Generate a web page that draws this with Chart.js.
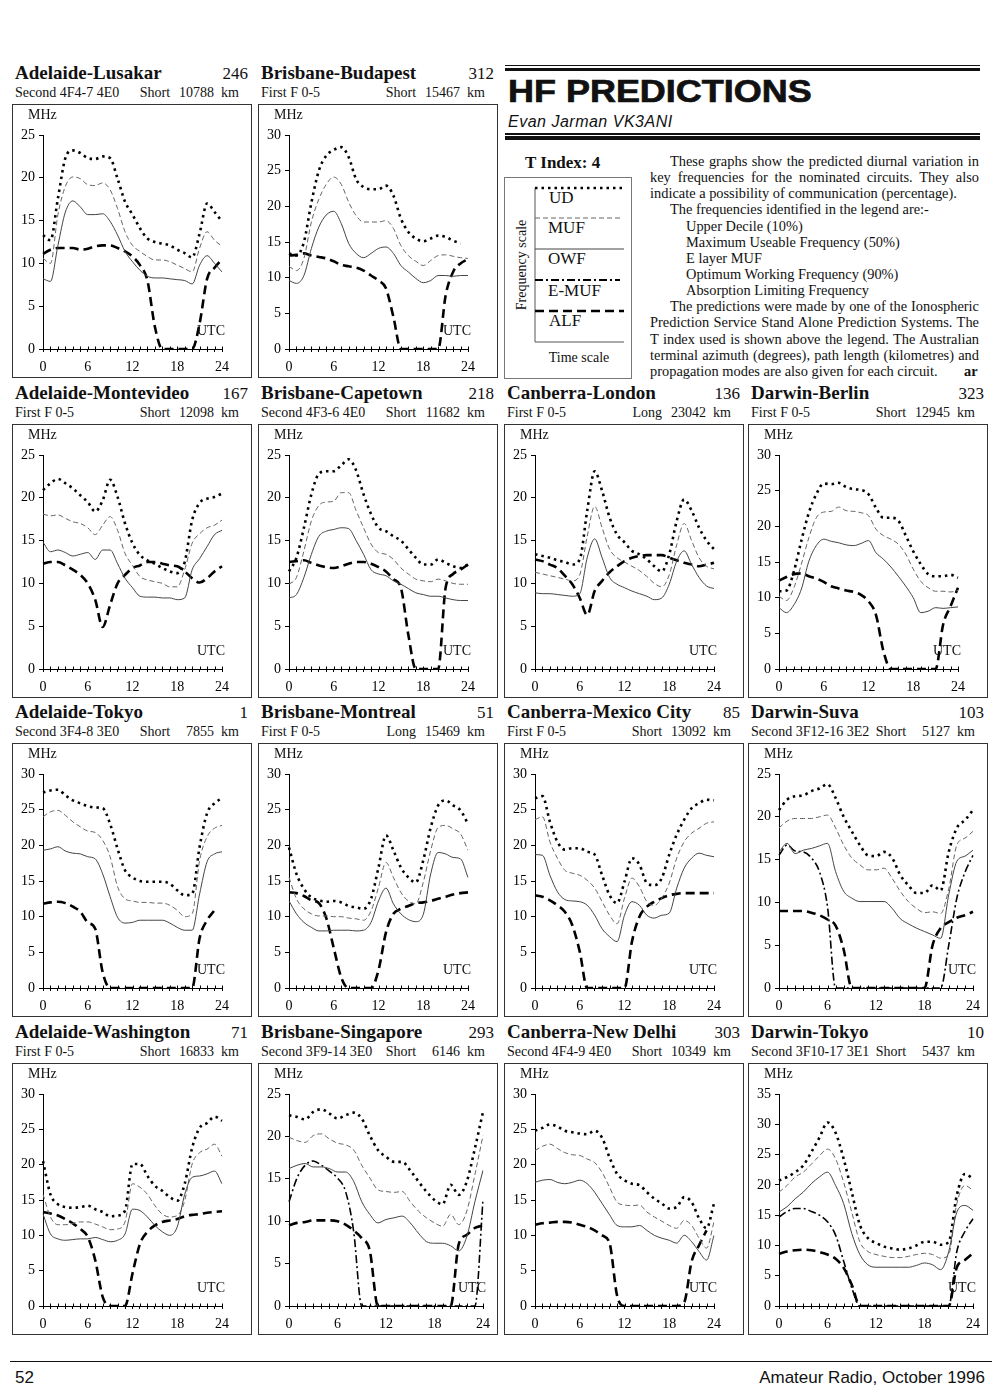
<!DOCTYPE html>
<html>
<head>
<meta charset="utf-8">
<title>HF Predictions</title>
<script src="https://cdn.jsdelivr.net/npm/chart.js@4.4.0/dist/chart.umd.min.js"></script>
<style>
  body { margin: 0; background: #fff; }
  #page { position: relative; width: 1000px; height: 1391px; overflow: hidden;
          font-family: "Liberation Serif", "Times New Roman", serif; color: #111; }
  .box { position: absolute; width: 240px; border: 1px solid #333; box-sizing: border-box; }
  .box canvas { position: absolute; left: 0; top: 0; }
  .ttl { position: absolute; font-weight: bold; font-size: 19px; line-height: 1; white-space: nowrap; }
  .az  { position: absolute; font-size: 17px; line-height: 1; text-align: right; width: 236px; }
  .sub { position: absolute; font-size: 14px; line-height: 1; white-space: nowrap; }
  .path { position: absolute; font-size: 14px; line-height: 1; white-space: nowrap; text-align: right; width: 227px; }
  .path .km { display: inline-block; width: 44px; text-align: right; }
  .rule { position: absolute; background: #111; }
  .txt { position: absolute; font-size: 14.4px; line-height: 1; white-space: nowrap; }
  .just { text-align: justify; text-align-last: justify; white-space: normal; height: 15px; }
</style>
</head>
<body>
<div id="page">
  <!-- en-tete -->
  <div class="rule" style="left:505px;top:64.5px;width:475px;height:1.5px"></div>
  <div class="rule" style="left:505px;top:67.5px;width:475px;height:3.5px"></div>
  <div style="position:absolute;left:508px;top:76px;font-family:'Liberation Sans',Arial,sans-serif;font-weight:bold;font-size:31px;line-height:1;white-space:nowrap;transform:scaleX(1.16);transform-origin:left top;-webkit-text-stroke:0.7px #111">HF PREDICTIONS</div>
  <div style="position:absolute;left:508px;top:113.5px;font-family:'Liberation Sans',Arial,sans-serif;font-style:italic;font-size:16px;line-height:1;letter-spacing:0.5px;white-space:nowrap">Evan Jarman VK3ANI</div>
  <div class="rule" style="left:505px;top:133.3px;width:475px;height:1.5px"></div>
  <div class="rule" style="left:505px;top:136px;width:475px;height:4px"></div>

  <!-- legende -->
  <div style="position:absolute;left:525px;top:154px;font-weight:bold;font-size:17px;line-height:1;white-space:nowrap">T Index: 4</div>
  <svg style="position:absolute;left:504px;top:177px" width="128" height="202" font-family="Liberation Serif, Times New Roman, serif" fill="#111">
    <rect x="0.5" y="0.5" width="127" height="201" fill="none" stroke="#777" stroke-width="1"/>
    <line x1="31" y1="11" x2="31" y2="165" stroke="#555" stroke-width="1"/>
    <line x1="31" y1="11" x2="120" y2="11" stroke="#000" stroke-width="2.6" stroke-dasharray="2.5 4"/>
    <text x="45" y="26" font-size="17">UD</text>
    <line x1="31" y1="41" x2="116" y2="41" stroke="#666" stroke-width="1" stroke-dasharray="5 3"/>
    <text x="44" y="56" font-size="17">MUF</text>
    <line x1="31" y1="72" x2="120" y2="72" stroke="#444" stroke-width="1"/>
    <text x="44" y="87" font-size="17">OWF</text>
    <line x1="31" y1="103" x2="116" y2="103" stroke="#000" stroke-width="1.8" stroke-dasharray="8 3 2 3"/>
    <text x="44" y="119" font-size="17">E-MUF</text>
    <line x1="31" y1="134" x2="120" y2="134" stroke="#000" stroke-width="2.6" stroke-dasharray="9 5"/>
    <text x="45" y="149" font-size="17">ALF</text>
    <line x1="31" y1="165" x2="120" y2="165" stroke="#555" stroke-width="1"/>
    <text x="17" y="88" font-size="14" text-anchor="middle" dominant-baseline="central" transform="rotate(-90 17 88)">Frequency scale</text>
    <text x="75" y="185" font-size="14" text-anchor="middle">Time scale</text>
  </svg>

  <!-- texte -->
  <div class="txt just" style="left:670px;top:153.9px;width:309px">These graphs show the predicted diurnal variation in</div>
  <div class="txt just" style="left:650px;top:170.1px;width:329px">key frequencies for the nominated circuits. They also</div>
  <div class="txt" style="left:650px;top:186.2px">indicate a possibility of communication (percentage).</div>
  <div class="txt" style="left:670px;top:202.4px">The frequencies identified in the legend are:-</div>
  <div class="txt" style="left:686px;top:218.5px">Upper Decile (10%)</div>
  <div class="txt" style="left:686px;top:234.7px">Maximum Useable Frequency (50%)</div>
  <div class="txt" style="left:686px;top:250.8px">E layer MUF</div>
  <div class="txt" style="left:686px;top:267px">Optimum Working Frequency (90%)</div>
  <div class="txt" style="left:686px;top:283.1px">Absorption Limiting Frequency</div>
  <div class="txt just" style="left:670px;top:299.3px;width:309px">The predictions were made by one of the Ionospheric</div>
  <div class="txt just" style="left:650px;top:315.4px;width:329px">Prediction Service Stand Alone Prediction Systems. The</div>
  <div class="txt just" style="left:650px;top:331.6px;width:329px">T index used is shown above the legend. The Australian</div>
  <div class="txt just" style="left:650px;top:347.7px;width:329px">terminal azimuth (degrees), path length (kilometres) and</div>
  <div class="txt" style="left:650px;top:363.9px">propagation modes are also given for each circuit.</div>
  <div class="txt" style="left:964px;top:363.9px;font-weight:bold">ar</div>

  <!-- pied de page -->
  <div class="rule" style="left:10px;top:1360.5px;width:982px;height:1.6px"></div>
  <div style="position:absolute;left:15px;top:1368.5px;font-family:'Liberation Sans',Arial,sans-serif;font-size:17px;line-height:1">52</div>
  <div style="position:absolute;left:600px;width:385px;text-align:right;top:1368.5px;font-family:'Liberation Sans',Arial,sans-serif;font-size:17px;line-height:1;white-space:nowrap">Amateur Radio, October 1996</div>
</div>

<script>
// <données>
const hours = [0, 1, 2, 3, 4, 5, 6, 7, 8, 9, 10, 11, 12, 13, 14, 15, 16, 17, 18, 19, 20, 21, 22, 23, 24];

const circuitNames = ["Adelaide-Lusakar", "Brisbane-Budapest", "Adelaide-Montevideo", "Brisbane-Capetown",
  "Canberra-London", "Darwin-Berlin", "Adelaide-Tokyo", "Brisbane-Montreal", "Canberra-Mexico City",
  "Darwin-Suva", "Adelaide-Washington", "Brisbane-Singapore", "Canberra-New Delhi", "Darwin-Tokyo"];
const azimuths = [246, 312, 167, 218, 136, 323, 1, 51, 85, 103, 71, 293, 303, 10];
const modes = ["Second 4F4-7 4E0", "First F 0-5", "First F 0-5", "Second 4F3-6 4E0", "First F 0-5", "First F 0-5",
  "Second 3F4-8 3E0", "First F 0-5", "First F 0-5", "Second 3F12-16 3E2", "First F 0-5",
  "Second 3F9-14 3E0", "Second 4F4-9 4E0", "Second 3F10-17 3E1"];
const pathTypes = ["Short", "Short", "Short", "Short", "Long", "Short", "Short", "Long", "Short", "Short", "Short", "Short", "Short", "Short"];
const pathKm = [10788, 15467, 12098, 11682, 23042, 12945, 7855, 15469, 13092, 5127, 16833, 6146, 10349, 5437];
const yMax = [25, 30, 25, 25, 25, 30, 30, 30, 30, 25, 30, 25, 30, 35];

// Adelaide-Lusakar
const lusakarUD  = [13.3, 12.7, 17.6, 22.3, 23.2, 22.9, 22.3, 22.2, 22.5, 22.3, 19.9, 17.2, 15.7, 14.1, 12.9, 12.5, 12.3, 12.1, 11.6, 11.2, 10.7, 13.5, 17.0, 16.0, 14.9];
const lusakarMUF = [10.6, 10.0, 15.7, 19.0, 20.1, 19.9, 19.2, 19.1, 19.4, 18.6, 16.4, 13.7, 12.1, 11.4, 10.8, 10.4, 10.4, 10.2, 9.8, 9.4, 9.0, 11.8, 13.7, 12.7, 12.0];
const lusakarOWF = [8.2, 7.9, 12.1, 16.0, 17.3, 16.6, 15.7, 15.7, 15.8, 14.9, 13.3, 11.4, 10.2, 9.2, 8.5, 8.3, 8.3, 8.2, 8.1, 8.0, 7.6, 9.8, 10.9, 10.0, 9.0];
const lusakarALF = [11.1, 11.6, 11.8, 11.8, 11.8, 11.6, 11.7, 12.0, 12.1, 12.1, 11.8, 11.4, 10.8, 9.8, 8.0, 2.6, 0, 0, 0, 0, 0, 3.0, 8.2, 9.5, 10.5];
// Brisbane-Budapest
const budapestUD  = [13.4, 13.1, 15.0, 20.5, 25.0, 27.1, 27.9, 28.3, 26.9, 23.8, 22.7, 22.4, 22.4, 22.9, 21.5, 18.3, 16.4, 15.5, 15.1, 15.5, 15.9, 15.7, 15.2, 14.8, null];
const budapestMUF = [11.6, 11.0, 12.7, 17.8, 21.0, 23.1, 24.1, 23.1, 20.6, 18.7, 17.8, 17.8, 17.8, 18.0, 16.9, 14.5, 13.1, 12.3, 11.7, 12.4, 13.1, 13.2, 13.0, 12.8, 12.7];
const budapestOWF = [9.6, 9.2, 10.3, 14.1, 17.1, 18.8, 19.3, 17.6, 14.8, 13.4, 12.8, 13.4, 14.1, 14.3, 13.4, 11.7, 10.8, 9.9, 9.3, 9.6, 10.3, 10.3, 10.2, 10.3, 10.3];
const budapestALF = [13.1, 13.2, 13.4, 13.1, 12.9, 12.7, 12.3, 11.8, 11.6, 11.4, 11.0, 10.3, 9.6, 8.5, 4.5, 0, 0, 0, 0, 0, 0, 7.5, 10.8, 12.0, 12.6];
// Adelaide-Montevideo
const montevideoUD  = [20.9, 21.7, 22.2, 21.7, 21.1, 20.3, 19.5, 18.4, 19.7, 22.1, 20.1, 17.0, 14.7, 13.3, 12.7, 12.3, 11.8, 11.4, 11.2, 12.5, 17.4, 19.4, 19.9, 20.1, 20.5];
const montevideoMUF = [18.1, 17.9, 18.0, 17.6, 17.2, 17.0, 16.5, 15.7, 16.8, 17.8, 16.2, 13.5, 12.1, 10.8, 10.4, 10.2, 10.0, 9.6, 9.6, 11.6, 14.7, 15.8, 16.5, 16.8, 17.4];
const montevideoOWF = [14.8, 13.7, 13.9, 13.6, 13.2, 13.4, 13.6, 12.8, 13.9, 13.9, 12.3, 10.6, 9.5, 8.5, 8.4, 8.4, 8.3, 8.3, 8.1, 8.3, 11.6, 12.9, 14.3, 15.7, 16.2];
const montevideoALF = [12.3, 12.5, 12.5, 12.1, 11.6, 11.0, 10.0, 8.1, 4.9, 7.5, 10.0, 11.0, 11.8, 12.1, 12.5, 12.5, 12.3, 12.1, 12.0, 11.4, 10.6, 10.1, 10.6, 11.4, 12.0];
// Brisbane-Capetown
const capetownUD  = [11.4, 13.0, 16.5, 20.4, 22.8, 23.1, 23.1, 23.8, 24.5, 23.2, 20.4, 18.1, 16.5, 16.1, 15.5, 15.0, 14.0, 13.0, 12.2, 12.2, 12.8, 12.4, 12.0, 11.8, 12.2];
const capetownMUF = [9.9, 10.7, 13.8, 17.3, 19.1, 19.5, 19.6, 20.6, 20.6, 18.5, 16.5, 14.6, 13.6, 13.4, 12.8, 11.8, 11.1, 10.5, 10.3, 10.2, 10.5, 10.3, 10.0, 9.9, 9.9];
const capetownOWF = [8.3, 8.7, 10.7, 13.4, 15.5, 16.1, 16.3, 16.5, 16.4, 15.0, 13.4, 11.6, 11.1, 10.9, 10.3, 9.9, 9.4, 8.9, 8.7, 8.5, 8.5, 8.3, 8.1, 8.0, 8.0];
const capetownALF = [12.5, 12.6, 12.7, 12.4, 12.1, 11.9, 11.8, 12.0, 12.3, 12.5, 12.5, 12.3, 11.9, 11.4, 10.5, 9.5, 4.0, 0, 0, 0, 0, 9.5, 11.1, 11.6, 12.2];
// Canberra-London
const londonUD  = [13.4, 13.2, 13.0, 12.7, 12.5, 12.2, 12.8, 18.5, 23.1, 20.8, 17.7, 15.7, 14.8, 13.8, 13.4, 12.8, 12.0, 11.4, 13.4, 17.3, 19.8, 18.5, 16.5, 15.0, 14.0];
const londonMUF = [11.3, 11.1, 10.9, 10.7, 10.5, 10.3, 11.0, 15.5, 19.0, 16.5, 14.0, 13.0, 12.5, 12.0, 11.5, 10.8, 10.0, 9.6, 11.0, 14.5, 17.0, 15.0, 13.0, 12.0, 11.7];
const londonOWF = [8.9, 8.8, 8.8, 8.7, 8.6, 8.5, 8.8, 13.0, 15.2, 13.0, 10.7, 9.9, 9.5, 9.1, 8.8, 8.5, 8.1, 8.3, 9.9, 12.6, 13.8, 12.2, 10.7, 9.7, 9.4];
const londonALF = [12.8, 12.6, 12.2, 11.8, 10.9, 9.9, 8.3, 6.3, 9.1, 10.3, 11.3, 12.0, 12.6, 13.0, 13.2, 13.3, 13.3, 13.3, 13.0, 12.7, 12.4, 12.2, 12.0, 12.2, 12.4];
// Darwin-Berlin
const berlinUD  = [10.9, 11.0, 13.7, 18.0, 21.9, 24.5, 26.0, 25.9, 26.1, 25.5, 25.2, 25.1, 24.5, 22.6, 21.2, 21.2, 20.8, 18.7, 16.5, 14.7, 13.3, 13.0, 13.0, 13.2, 12.8];
const berlinMUF = [10.2, 9.6, 11.4, 14.7, 18.4, 21.2, 22.0, 22.1, 22.7, 22.2, 22.1, 21.9, 21.5, 19.6, 18.7, 18.2, 17.5, 16.1, 14.0, 12.3, 11.4, 10.9, 10.9, 10.8, 11.0];
const berlinOWF = [8.6, 7.9, 9.0, 11.2, 15.1, 17.3, 18.2, 17.9, 17.7, 17.4, 17.3, 17.6, 18.0, 16.3, 15.4, 14.3, 13.0, 11.6, 10.0, 7.9, 8.1, 8.6, 8.5, 8.6, 8.7];
const berlinALF = [12.4, 12.9, 13.3, 13.4, 13.0, 12.7, 12.2, 11.6, 11.3, 11.0, 10.8, 10.4, 9.5, 7.6, 2.5, 0, 0, 0, 0, 0, 0, 0, 6.2, 8.8, 11.4];
// Adelaide-Tokyo
const adlTokyoUD  = [27.4, 27.7, 27.8, 27.0, 26.3, 25.9, 25.5, 25.3, 25.2, 23.0, 19.5, 16.5, 15.5, 15.0, 14.9, 14.9, 14.9, 14.6, 13.7, 13.0, 13.2, 19.8, 24.5, 25.9, 26.6];
const adlTokyoMUF = [24.0, 24.7, 24.9, 24.2, 23.3, 22.6, 22.0, 21.8, 20.7, 18.4, 14.2, 12.5, 12.2, 12.0, 12.0, 11.9, 11.9, 11.6, 10.9, 10.0, 10.4, 17.9, 21.2, 22.4, 22.8];
const adlTokyoOWF = [19.3, 19.5, 19.8, 19.2, 18.9, 18.8, 18.4, 18.1, 16.0, 12.8, 9.9, 9.1, 9.2, 9.5, 9.5, 9.5, 9.5, 9.1, 8.5, 8.1, 8.1, 13.2, 17.7, 18.8, 19.1];
const adlTokyoALF = [11.8, 12.0, 12.1, 11.9, 11.4, 10.7, 9.2, 8.3, 2.2, 0, 0, 0, 0, 0, 0, 0, 0, 0, 0, 0, 0, 7.0, 9.5, 10.9, null];
// Brisbane-Montreal
const montrealUD  = [19.7, 16.0, 13.9, 12.7, 12.3, 12.1, 12.2, 12.0, 11.5, 11.3, 11.1, 12.5, 16.9, 21.4, 19.3, 16.9, 15.5, 14.8, 17.9, 22.5, 25.6, 26.3, 25.6, 24.9, 23.0];
const montrealMUF = [15.5, 12.5, 11.1, 10.4, 10.1, 10.1, 10.0, 10.0, 9.8, 9.7, 9.5, 10.8, 14.1, 17.6, 15.5, 13.4, 12.2, 11.8, 14.8, 19.3, 22.5, 22.8, 22.3, 21.6, 19.3];
const montrealOWF = [12.2, 10.4, 9.2, 8.5, 8.0, 8.0, 8.1, 8.1, 8.1, 8.0, 8.1, 9.2, 12.2, 14.0, 11.8, 10.4, 9.6, 9.3, 10.3, 16.0, 19.0, 18.8, 18.3, 18.1, 15.5];
const montrealALF = [13.4, 13.3, 12.9, 12.3, 11.9, 9.8, 5.6, 1.5, 0, 0, 0, 0, 2.5, 7.8, 10.4, 11.1, 11.5, 11.9, 12.0, 12.2, 12.5, 12.8, 13.1, 13.3, 13.4];
// Canberra-Mexico City
const mexicoUD  = [26.6, 26.9, 23.3, 20.5, 19.4, 19.6, 19.6, 19.1, 18.7, 15.8, 13.0, 11.9, 14.9, 18.2, 17.3, 14.7, 14.4, 15.4, 18.7, 21.5, 23.6, 25.2, 25.9, 26.4, 26.3];
const mexicoMUF = [23.6, 24.0, 20.5, 18.2, 16.5, 16.1, 15.8, 15.1, 14.0, 12.1, 10.2, 9.0, 12.6, 15.4, 14.2, 12.1, 11.6, 12.6, 14.7, 18.2, 20.5, 21.7, 22.4, 23.1, 23.3];
const mexicoOWF = [18.7, 18.6, 15.8, 13.5, 12.4, 12.2, 12.1, 11.6, 10.2, 8.3, 7.2, 6.5, 10.2, 12.1, 11.6, 10.2, 9.8, 10.2, 10.5, 14.0, 16.8, 18.2, 18.9, 18.6, 18.4];
const mexicoALF = [13.0, 12.8, 12.3, 11.6, 10.7, 8.8, 5.1, 0, 0, 0, 0, 0, 0, 6.5, 10.0, 11.4, 12.1, 12.6, 13.0, 13.2, 13.3, 13.3, 13.3, 13.3, 13.3];
// Darwin-Suva
const suvaUD   = [20.8, 22.0, 22.4, 22.5, 23.0, 23.3, 23.8, 22.2, 20.0, 18.3, 16.7, 15.5, 15.4, 15.9, 15.2, 13.2, 12.0, 11.1, 11.1, 12.0, 11.4, 15.9, 18.7, 19.6, 20.8];
const suvaMUF  = [18.7, 19.5, 19.8, 19.8, 19.8, 20.0, 20.2, 18.7, 16.7, 15.2, 14.4, 13.8, 13.8, 14.0, 12.8, 11.3, 10.1, 9.3, 8.8, 8.9, 8.7, 11.6, 16.7, 17.5, 18.3];
const suvaOWF  = [15.9, 16.9, 15.7, 16.1, 16.3, 16.6, 16.9, 13.6, 11.3, 10.5, 10.1, 10.1, 10.1, 10.1, 9.3, 8.1, 7.5, 7.0, 6.6, 6.2, 5.8, 10.9, 14.8, 15.4, 16.1];
const suvaEMUF = [15.5, 16.7, 16.0, 15.9, 15.2, 13.6, 9.5, 0, 0, 0, 0, 0, 0, 0, 0, 0, 0, 0, 0, 0, 0, 5.0, 10.5, 13.5, 15.5];
const suvaALF  = [9.0, 9.0, 9.0, 9.0, 8.8, 8.5, 8.0, 7.3, 4.5, 0, 0, 0, 0, 0, 0, 0, 0, 0, 0, 5.0, 7.0, 7.7, 8.2, 8.5, 8.9];
// Adelaide-Washington
const washingtonUD  = [20.5, 15.8, 14.4, 14.0, 13.9, 14.0, 14.2, 13.7, 13.3, 12.7, 12.8, 13.5, 20.1, 20.1, 18.4, 17.0, 16.3, 15.4, 14.9, 17.3, 22.4, 25.2, 25.9, 26.8, 26.2];
const washingtonMUF = [15.8, 12.6, 11.5, 11.5, 11.7, 11.9, 11.9, 11.6, 11.2, 10.8, 10.9, 11.9, 17.3, 16.8, 15.8, 14.2, 13.0, 12.6, 12.8, 14.9, 20.1, 21.7, 22.2, 22.9, 21.2];
const washingtonOWF = [13.0, 10.2, 9.5, 9.3, 9.4, 9.5, 9.5, 9.7, 9.4, 9.1, 9.3, 10.2, 13.7, 13.5, 12.6, 11.4, 10.5, 10.0, 11.2, 15.8, 18.2, 18.4, 18.7, 19.1, 17.3];
const washingtonALF = [13.3, 13.1, 12.8, 12.3, 11.7, 10.9, 9.8, 6.5, 1.3, 0, 0, 0, 4.6, 8.8, 10.5, 11.4, 11.9, 12.1, 12.3, 12.7, 12.9, 13.0, 13.2, 13.3, 13.4];
// Brisbane-Singapore
const singaporeUD   = [22.5, 22.3, 22.0, 22.9, 23.2, 22.7, 22.1, 22.5, 22.8, 22.1, 20.1, 18.4, 17.6, 17.0, 17.0, 16.0, 14.7, 13.5, 12.5, 12.0, 14.3, 13.1, 14.7, 18.6, 22.9];
const singaporeMUF  = [19.9, 19.5, 19.3, 20.1, 20.3, 19.7, 19.2, 19.0, 18.4, 16.6, 15.1, 13.7, 13.5, 13.4, 13.5, 12.3, 11.2, 10.4, 9.8, 9.4, 10.8, 9.6, 11.2, 15.5, 20.1];
const singaporeOWF  = [16.2, 16.6, 16.8, 16.4, 16.4, 16.2, 15.8, 15.8, 14.7, 12.3, 10.8, 9.8, 10.2, 10.4, 10.6, 9.8, 8.6, 7.6, 7.4, 7.4, 7.1, 6.5, 8.2, 12.3, 16.0];
const singaporeEMUF = [12.3, 15.1, 16.6, 17.1, 16.6, 15.9, 15.1, 13.5, 8.8, 0, 0, 0, 0, 0, 0, 0, 0, 0, 0, 0, 0, 0, 0, 0, 12.5];
const singaporeALF  = [9.5, 9.8, 9.9, 10.1, 10.1, 10.1, 10.0, 9.6, 8.9, 8.0, 6.5, 0, 0, 0, 0, 0, 0, 0, 0, 0, 0, 7.3, 8.4, 9.2, 9.5];
// Canberra-New Delhi
const delhiUD  = [24.8, 25.2, 25.7, 25.4, 24.8, 24.6, 24.4, 24.3, 24.8, 23.8, 21.0, 18.7, 17.8, 17.3, 17.1, 16.1, 15.2, 14.5, 13.8, 14.0, 15.4, 14.7, 12.4, 11.0, 14.5];
const delhiMUF = [22.0, 22.6, 22.9, 22.3, 21.7, 21.4, 21.3, 20.8, 20.3, 18.9, 16.8, 14.7, 14.3, 14.2, 14.3, 13.3, 12.6, 12.0, 11.4, 11.0, 12.1, 11.4, 9.6, 8.2, 11.9];
const delhiOWF = [17.5, 17.8, 17.9, 17.5, 17.3, 17.5, 17.8, 17.3, 16.1, 14.5, 12.9, 11.4, 11.2, 11.2, 11.4, 10.7, 10.0, 9.6, 9.3, 8.9, 10.0, 9.1, 7.7, 6.5, 10.0];
const delhiALF = [11.5, 11.7, 11.8, 11.9, 11.9, 11.8, 11.5, 11.2, 10.7, 10.0, 8.9, 1.5, 0, 0, 0, 0, 0, 0, 0, 0, 0.5, 6.3, 8.6, 10.7, null];
// Darwin-Tokyo
const drwTokyoUD   = [20.7, 21.3, 22.1, 23.2, 25.4, 27.8, 30.3, 28.6, 24.3, 18.8, 13.4, 11.2, 10.4, 9.8, 9.5, 9.3, 9.5, 10.0, 10.6, 10.6, 10.1, 10.6, 18.3, 21.8, 21.0];
const drwTokyoMUF  = [18.8, 19.9, 21.3, 22.1, 23.4, 24.8, 25.9, 24.3, 20.4, 15.5, 10.6, 9.0, 8.5, 8.2, 8.0, 8.0, 8.2, 8.5, 8.7, 8.5, 7.9, 8.5, 16.9, 19.9, 19.1];
const drwTokyoOWF  = [15.5, 16.4, 17.7, 18.8, 20.2, 21.3, 22.1, 19.9, 16.9, 12.0, 8.5, 6.8, 6.4, 6.4, 6.4, 6.4, 6.4, 6.7, 7.1, 6.8, 6.0, 9.0, 15.5, 16.6, 15.8];
const drwTokyoEMUF = [14.7, 15.6, 16.1, 16.1, 15.6, 15.0, 13.9, 11.7, 7.4, 3.0, 0, 0, 0, 0, 0, 0, 0, 0, 0, 0, 0, 0, 9.0, 12.3, 14.4];
const drwTokyoALF  = [8.6, 9.0, 9.2, 9.3, 9.2, 8.9, 8.5, 7.8, 6.3, 3.5, 0, 0, 0, 0, 0, 0, 0, 0, 0, 0, 0, 0, 6.4, 7.6, 8.7];
// </données>

// séries par circuit, dans le même ordre que circuitNames
const seriesUD   = [lusakarUD, budapestUD, montevideoUD, capetownUD, londonUD, berlinUD, adlTokyoUD, montrealUD, mexicoUD, suvaUD, washingtonUD, singaporeUD, delhiUD, drwTokyoUD];
const seriesMUF  = [lusakarMUF, budapestMUF, montevideoMUF, capetownMUF, londonMUF, berlinMUF, adlTokyoMUF, montrealMUF, mexicoMUF, suvaMUF, washingtonMUF, singaporeMUF, delhiMUF, drwTokyoMUF];
const seriesOWF  = [lusakarOWF, budapestOWF, montevideoOWF, capetownOWF, londonOWF, berlinOWF, adlTokyoOWF, montrealOWF, mexicoOWF, suvaOWF, washingtonOWF, singaporeOWF, delhiOWF, drwTokyoOWF];
const seriesEMUF = [null, null, null, null, null, null, null, null, null, suvaEMUF, null, singaporeEMUF, null, drwTokyoEMUF];
const seriesALF  = [lusakarALF, budapestALF, montevideoALF, capetownALF, londonALF, berlinALF, adlTokyoALF, montrealALF, mexicoALF, suvaALF, washingtonALF, singaporeALF, delhiALF, drwTokyoALF];

// mise en page (position des cadres sur la page)
const colLeft = [12, 258, 504, 748];
const rowTop = [104, 424, 743, 1063];
const rowHeight = [274, 274, 274, 272];
const slots = [[0, 0], [0, 1], [1, 0], [1, 1], [1, 2], [1, 3], [2, 0], [2, 1], [2, 2], [2, 3], [3, 0], [3, 1], [3, 2], [3, 3]];
const wideRight = [9, 11, 13]; // graphes dont l'axe des heures va presque jusqu'au bord

Chart.defaults.font.family = '"Liberation Serif", "Times New Roman", serif';
Chart.defaults.font.size = 14;
Chart.defaults.color = "#000";

// textes "MHz" et "UTC" + petits traits au-dessus de l'axe des heures
const axisNotes = {
  id: "axisNotes",
  afterDraw(chart) {
    const a = chart.chartArea;
    const ctx = chart.ctx;
    const xs = chart.scales.x;
    ctx.save();
    ctx.strokeStyle = "#000";
    ctx.lineWidth = 1;
    ctx.beginPath();
    xs.ticks.forEach((t, k) => {
      const px = Math.round(xs.getPixelForTick(k)) + 0.5;
      ctx.moveTo(px, a.bottom);
      ctx.lineTo(px, a.bottom - 2.5);
    });
    ctx.stroke();
    ctx.fillStyle = "#111";
    ctx.font = '14px "Liberation Serif", "Times New Roman", serif';
    ctx.textBaseline = "middle";
    ctx.textAlign = "left";
    ctx.fillText("MHz", a.left - 15, a.top - 20);
    ctx.textAlign = "right";
    ctx.fillText("UTC", a.right + 3, a.bottom - 18);
    ctx.restore();
  },
};

function lineStyle(label, values, color, width, dash) {
  return {
    label: label,
    data: values,
    borderColor: color,
    borderWidth: width,
    borderDash: dash,
    pointRadius: 0,
    fill: false,
    spanGaps: false,
    cubicInterpolationMode: "monotone",
  };
}

function drawCircuit(i) {
  const page = document.getElementById("page");
  const left = colLeft[slots[i][1]];
  const top = rowTop[slots[i][0]];
  const h = rowHeight[slots[i][0]];

  // titre, azimut, mode et longueur du trajet
  const t = document.createElement("div");
  t.className = "ttl";
  t.style.left = left + 3 + "px";
  t.style.top = top - 41 + "px";
  t.textContent = circuitNames[i];
  page.appendChild(t);

  const az = document.createElement("div");
  az.className = "az";
  az.style.left = left + "px";
  az.style.top = top - 39 + "px";
  az.textContent = azimuths[i];
  page.appendChild(az);

  const sub = document.createElement("div");
  sub.className = "sub";
  sub.style.left = left + 3 + "px";
  sub.style.top = top - 18 + "px";
  sub.textContent = modes[i];
  page.appendChild(sub);

  const path = document.createElement("div");
  path.className = "path";
  path.style.left = left + "px";
  path.style.top = top - 18 + "px";
  path.innerHTML = pathTypes[i] + '<span class="km">' + pathKm[i] + "</span>&nbsp;&nbsp;km";
  page.appendChild(path);

  // cadre + canevas
  const box = document.createElement("div");
  box.className = "box";
  box.style.left = left + "px";
  box.style.top = top + "px";
  box.style.height = h + "px";
  page.appendChild(box);

  const canvas = document.createElement("canvas");
  canvas.width = 238;
  canvas.height = h - 2;
  canvas.style.width = "238px";
  canvas.style.height = h - 2 + "px";
  box.appendChild(canvas);

  const datasets = [
    lineStyle("OWF", seriesOWF[i], "#444", 1, []),
    lineStyle("MUF", seriesMUF[i], "#666", 1, [5, 3]),
  ];
  if (seriesEMUF[i]) datasets.push(lineStyle("E-MUF", seriesEMUF[i], "#000", 1.6, [8, 3, 2, 3]));
  datasets.push(lineStyle("ALF", seriesALF[i], "#000", 2.6, [9, 5]));
  datasets.push(lineStyle("UD", seriesUD[i], "#000", 2.6, [2.5, 4]));

  const config = {
    type: "line",
    data: { labels: hours, datasets: datasets },
    options: {
      responsive: false,
      animation: false,
      events: [],
      layout: { padding: { top: 30, right: wideRight.includes(i) ? 12 : 29, left: 0, bottom: 0 } },
      plugins: { legend: { display: false }, tooltip: { enabled: false } },
      scales: {
        x: {
          type: "category",
          offset: false,
          border: { color: "#000", width: 1 },
          grid: { drawOnChartArea: false, drawTicks: true, tickLength: 3, color: "#000" },
          ticks: {
            autoSkip: false,
            maxRotation: 0,
            padding: 7,
            callback: function (v, idx) {
              return idx % 6 === 0 ? this.getLabelForValue(v) : "";
            },
          },
          afterFit: (s) => { s.height = 28; },
        },
        y: {
          min: 0,
          max: yMax[i],
          border: { color: "#000", width: 1 },
          grid: { drawOnChartArea: false, drawTicks: true, tickLength: 4, color: "#000" },
          ticks: { stepSize: 5, padding: 4 },
          afterFit: (s) => { s.width = 30; },
        },
      },
    },
    plugins: [axisNotes],
  };
  new Chart(canvas.getContext("2d"), config);
}

for (let i = 0; i < circuitNames.length; i++) {
  drawCircuit(i);
}
</script>
</body>
</html>
